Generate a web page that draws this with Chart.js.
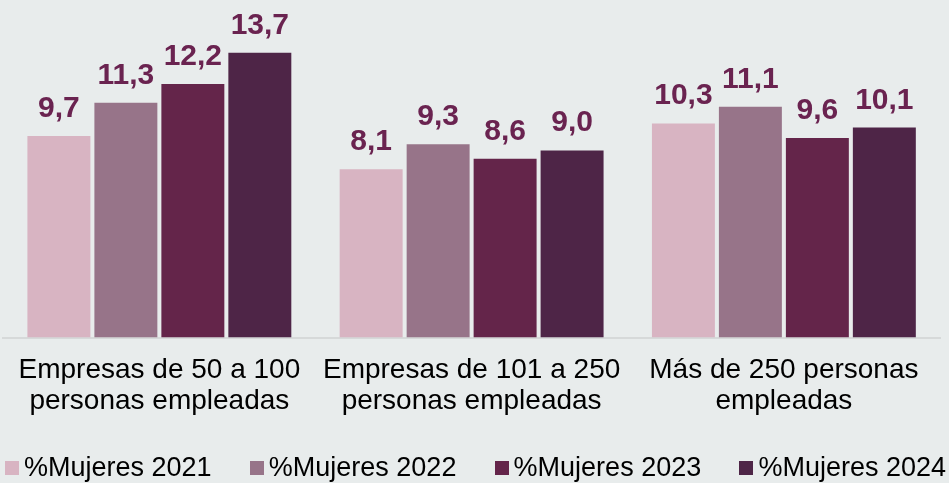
<!DOCTYPE html>
<html>
<head>
<meta charset="utf-8">
<script src="https://cdn.jsdelivr.net/npm/chart.js@4.4.1/dist/chart.umd.min.js"></script>
<style>
  html, body { margin: 0; padding: 0; background: #e8ecec; }
  #wrap { width: 949px; height: 483px; position: relative; }
  #legend {
    position: absolute; left: 5px; right: 3px; top: 451px;
    display: flex; justify-content: space-between; align-items: center;
    font-family: 'Liberation Sans', Arial, sans-serif; font-size: 27px; color: #000;
    line-height: 32px;
  }
  #legend .item { display: flex; align-items: center; white-space: nowrap; }
  #legend .box { width: 14px; height: 14px; margin-right: 5px; margin-top: 2px; }
</style>
</head>
<body>
<div id="wrap"><canvas id="chart"></canvas><div id="legend"></div></div>
<script>
const categories = [
  ["Empresas de 50 a 100", "personas empleadas"],
  ["Empresas de 101 a 250", "personas empleadas"],
  ["Más de 250 personas", "empleadas"]
];
const seriesNames = ["%Mujeres 2021", "%Mujeres 2022", "%Mujeres 2023", "%Mujeres 2024"];
const values2021 = [9.7, 8.1, 10.3];
const values2022 = [11.3, 9.3, 11.1];
const values2023 = [12.2, 8.6, 9.6];
const values2024 = [13.7, 9.0, 10.1];
const colors = ["#d8b4c2", "#977489", "#64254a", "#4e2547"];

const FONT = "'Liberation Sans', Arial, sans-serif";

// value labels above bars, comma decimals
const valueLabels = {
  id: "valueLabels",
  afterDatasetsDraw(chart) {
    const ctx = chart.ctx;
    ctx.save();
    ctx.font = "bold 30px " + FONT;
    ctx.fillStyle = "#6a2350";
    ctx.textAlign = "center";
    ctx.textBaseline = "alphabetic";
    chart.data.datasets.forEach((ds, i) => {
      const meta = chart.getDatasetMeta(i);
      meta.data.forEach((bar, j) => {
        const txt = ds.data[j].toFixed(1).replace(".", ",");
        ctx.fillText(txt, bar.x, bar.y - 19);
      });
    });
    ctx.restore();
  }
};

const allSeries = [values2021, values2022, values2023, values2024];

const chart = new Chart(document.getElementById("chart"), {
  type: "bar",
  data: {
    labels: categories,
    datasets: allSeries.map((vals, i) => ({
      label: seriesNames[i],
      data: vals,
      backgroundColor: colors[i],
      borderWidth: 0,
      categoryPercentage: 0.858,
      barPercentage: 0.94
    }))
  },
  options: {
    responsive: true,
    maintainAspectRatio: false,
    animation: false,
    layout: { padding: { top: 5, left: 3, right: 9, bottom: 49 } },
    plugins: {
      tooltip: { enabled: false },
      legend: { display: false }
    },
    scales: {
      y: {
        display: false,
        min: 0,
        max: 16
      },
      x: {
        grid: { display: false, drawTicks: false },
        border: { display: true, color: "#d6d9d9", width: 2 },
        ticks: {
          font: { family: FONT, size: 28, lineHeight: 1.08 },
          color: "#000",
          padding: 18,
          maxRotation: 0
        }
      }
    }
  },
  plugins: [valueLabels]
});

// legend as html
const legendEl = document.getElementById("legend");
seriesNames.forEach((name, i) => {
  const item = document.createElement("div");
  item.className = "item";
  item.innerHTML = `<span class="box" style="background:${colors[i]}"></span><span>${name}</span>`;
  legendEl.appendChild(item);
});
</script>
</body>
</html>
